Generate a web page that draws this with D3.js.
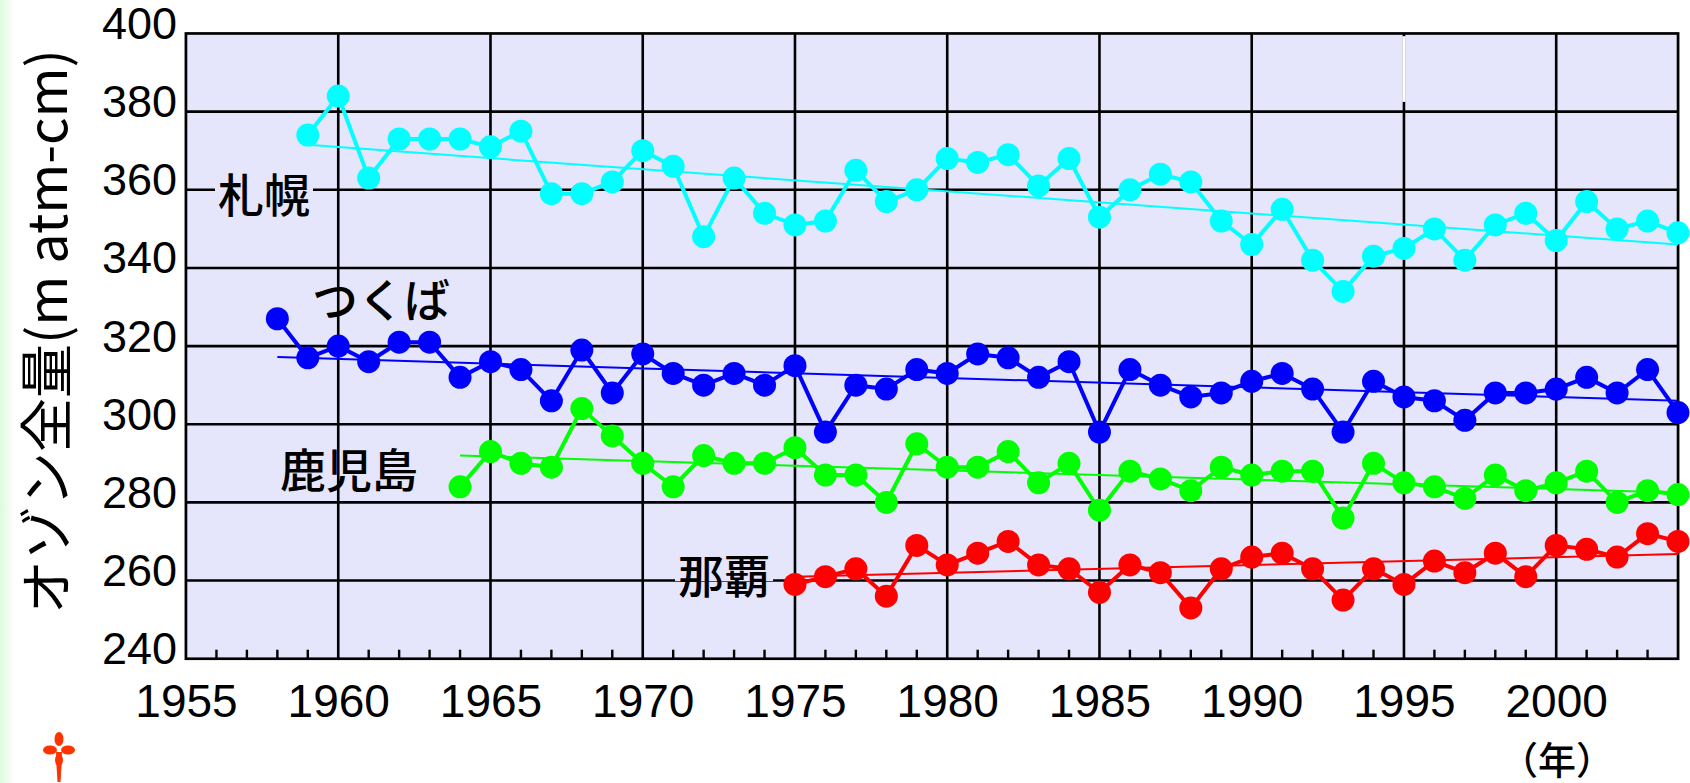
<!DOCTYPE html>
<html><head><meta charset="utf-8">
<script src="https://cdn.jsdelivr.net/npm/d3@7"></script>
<style>
html,body{margin:0;padding:0;background:#fff;}
svg{display:block;}
</style></head>
<body>
<svg id="chart" width="1690" height="783"></svg>
<script>
// ---- data ----
const sapporoStart = 1959;
const sapporo = [374,384,363,373,373,373,371,375,359,359,362,370,366,348,363,354,351,352,365,357,360,368,367,369,361,368,353,360,364,362,352,346,355,342,334,343,345,350,342,351,354,347,357,350,352,349];
const tsukubaStart = 1958;
const tsukuba = [327,317,320,316,321,321,312,316,314,306,319,308,318,313,310,313,310,315,298,310,309,314,313,318,317,312,316,298,314,310,307,308,311,313,309,298,311,307,306,301,308,308,309,312,308,314,303];
const kagoshimaStart = 1964;
const kagoshima = [284,293,290,289,304,297,290,284,292,290,290,294,287,287,280,295,289,289,293,285,290,278,288,286,283,289,287,288,288,276,290,285,284,281,287,283,285,288,280,283,282];
const nahaStart = 1975;
const naha = [259,261,263,256,269,264,267,270,264,263,257,264,262,253,263,266,267,263,255,263,259,265,262,267,261,269,268,266,272,270];
// trend lines: [startYear, startValue, endYear, endValue]
const sapporoTrend = [1959, 371.5, 2004, 346];
const tsukubaTrend = [1958, 317.2, 2004, 306];
const kagoshimaTrend = [1964, 292, 2004, 282.5];
const nahaTrend = [1975, 261, 2004, 266.8];
const stationNames = ["札幌","つくば","鹿児島","那覇"];
// label anchor points in data coordinates [year, value]
const labelAnchors = [[1956.05,359.5],[1959.14,332.6],[1958.09,289.1],[1971.16,261.9]];
const xTickLabels = [1955,1960,1965,1970,1975,1980,1985,1990,1995,2000];
const yTickLabels = [240,260,280,300,320,340,360,380,400];
const yTitle = "オゾン全量(m atm-cm)";
const xUnit = "（年）";

// ---- layout ----
const svg = d3.select("#chart");
const L = 186, R = 1678, T = 33.5, B = 658.7;
const x = d3.scaleLinear().domain([1955, 2004]).range([L, R]);
const y = d3.scaleLinear().domain([240, 400]).range([B, T]);
const plotBg = "#e5e5fb";

// left green strip
const defs = svg.append("defs");
const grad = defs.append("linearGradient").attr("id","strip").attr("x1","0").attr("x2","1").attr("y1","0").attr("y2","0");
grad.append("stop").attr("offset","0").attr("stop-color","#dcfadc");
grad.append("stop").attr("offset","1").attr("stop-color","#f6fff6");
svg.append("rect").attr("x",0).attr("y",0).attr("width",12).attr("height",783).attr("fill","url(#strip)");

// plot background
svg.append("rect").attr("x",L).attr("y",T).attr("width",R-L).attr("height",B-T).attr("fill",plotBg);

// grid
const grid = svg.append("g").attr("stroke","#000").attr("stroke-width",2.6);
yTickLabels.filter(v => v>240 && v<400).forEach(v => {
  grid.append("line").attr("x1",L).attr("x2",R).attr("y1",y(v)).attr("y2",y(v));
});
xTickLabels.filter(v => v>1955).forEach(v => {
  grid.append("line").attr("x1",x(v)).attr("x2",x(v)).attr("y1",T).attr("y2",B);
});
// white glitch segment on 1995 gridline (top cell)
svg.append("line").attr("x1",x(1995)).attr("x2",x(1995)).attr("y1",y(399.3)).attr("y2",y(382.5))
  .attr("stroke","#fff").attr("stroke-width",3.2);

// minor year ticks
const years = d3.range(1956, 2004).filter(v => v % 5 !== 0);
svg.append("g").attr("stroke","#000").attr("stroke-width",2.4)
  .selectAll("line").data(years).join("line")
  .attr("x1",d=>x(d)).attr("x2",d=>x(d)).attr("y1",B).attr("y2",B-9);

// border
svg.append("rect").attr("x",L-1).attr("y",T-1).attr("width",R-L+2).attr("height",B-T+2)
  .attr("fill","none").attr("stroke","#9a9a9a").attr("stroke-width",1);
svg.append("rect").attr("x",L).attr("y",T).attr("width",R-L).attr("height",B-T)
  .attr("fill","none").attr("stroke","#000").attr("stroke-width",2.6);

// axes labels
const fontLatin = "'Liberation Sans', Arial, sans-serif";
const xAxis = svg.append("g").attr("transform",`translate(0,${B})`)
  .call(d3.axisBottom(x).tickValues(xTickLabels).tickFormat(d3.format("d")).tickSize(0).tickPadding(25.6));
xAxis.select(".domain").remove();
xAxis.selectAll("text").attr("font-family",fontLatin).attr("font-size",46).attr("fill","#000");

const yAxis = svg.append("g").attr("transform",`translate(${L},0)`)
  .call(d3.axisLeft(y).tickValues(yTickLabels).tickFormat(d3.format("d")).tickSize(0).tickPadding(9));
yAxis.select(".domain").remove();
yAxis.selectAll("text").attr("font-family",fontLatin).attr("font-size",45).attr("fill","#000").attr("dy","0.11em");

// series
const series = [
  {start: sapporoStart, values: sapporo, trend: sapporoTrend, color: "#00ffff"},
  {start: tsukubaStart, values: tsukuba, trend: tsukubaTrend, color: "#0000ff"},
  {start: kagoshimaStart, values: kagoshima, trend: kagoshimaTrend, color: "#00ff00"},
  {start: nahaStart, values: naha, trend: nahaTrend, color: "#ff0000"}
];
const line = d3.line().x(d=>x(d[0])).y(d=>y(d[1]));
series.forEach(s => {
  const pts = s.values.map((v,i) => [s.start + i, v]);
  const g = svg.append("g");
  g.append("path").attr("d", line(pts)).attr("fill","none").attr("stroke",s.color).attr("stroke-width",4).attr("stroke-linejoin","round");
  g.append("path").attr("d", line([[s.trend[0],s.trend[1]],[s.trend[2],s.trend[3]]]))
    .attr("fill","none").attr("stroke",s.color).attr("stroke-width",2);
  g.selectAll("circle").data(pts).join("circle")
    .attr("cx",d=>x(d[0])).attr("cy",d=>y(d[1])).attr("r",11.5).attr("fill",s.color);
});

// station labels
const fontJP = "'Noto Sans CJK JP', sans-serif";
stationNames.forEach((name,i) => {
  const [yr, v] = labelAnchors[i];
  const t = svg.append("text").attr("x",x(yr)).attr("y",y(v)).attr("dominant-baseline","central")
    .attr("font-family",fontJP).attr("font-size",46).attr("font-weight",500).attr("fill","#000").text(name);
  if (i === 0 || i === 3) {
    const bb = t.node().getBBox();
    svg.insert("rect", () => t.node()).attr("x",bb.x-3).attr("y",y(v)-8).attr("width",bb.width+6).attr("height",16).attr("fill",plotBg);
  }
});

// y title: anchored at its bottom end, scaled to the reference length
const title = svg.append("text").attr("transform","translate(43,614) rotate(-90)")
  .attr("text-anchor","start").attr("dominant-baseline","central")
  .attr("font-family",fontJP).attr("font-size",54).attr("fill","#000").text(yTitle);
const tl = title.node().getComputedTextLength();
if (tl > 600) title.attr("textLength", 600).attr("lengthAdjust","spacingAndGlyphs");

// x unit
svg.append("text").attr("x",1557).attr("y",757).attr("text-anchor","middle").attr("dominant-baseline","central")
  .attr("font-family",fontJP).attr("font-size",38).attr("font-weight",500).attr("fill","#000").text(xUnit);

// decorative red cross
const cross = svg.append("g").attr("fill","#ff3300");
cross.append("ellipse").attr("cx",59).attr("cy",739).attr("rx",4.5).attr("ry",7);
cross.append("ellipse").attr("cx",50).attr("cy",750).attr("rx",7).attr("ry",4.5);
cross.append("ellipse").attr("cx",68).attr("cy",750).attr("rx",7).attr("ry",4.5);
cross.append("ellipse").attr("cx",59).attr("cy",760).attr("rx",4).attr("ry",6);
cross.append("path").attr("d","M56,752 L62,752 L61.5,766 L60.5,782 L57.5,782 L56.5,766 Z");
</script>
</body></html>
